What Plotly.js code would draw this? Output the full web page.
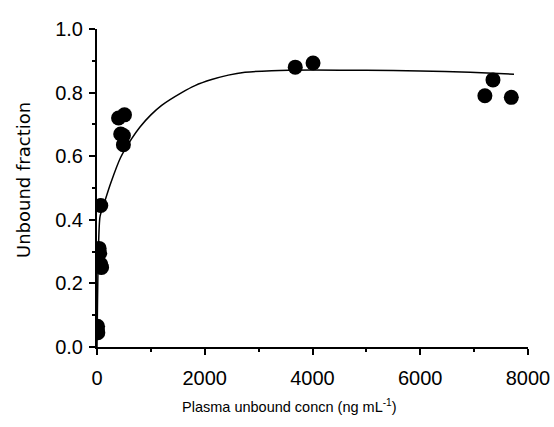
<!DOCTYPE html>
<html>
<head>
<meta charset="utf-8">
<script src="https://cdn.plot.ly/plotly-3.0.1.min.js"></script>
<style>html,body{margin:0;padding:0;background:#fff;}#chart{width:554px;height:427px;}</style>
</head>
<body>
<div id="chart"></div>
<script>
// Observed data points (plasma unbound concn, unbound fraction)
const pointX = [5, 10, 15, 40, 50, 70, 85, 70, 400, 510, 440, 490, 490, 3680, 4010, 7350, 7200, 7690];
const pointY = [0.055, 0.065, 0.045, 0.31, 0.295, 0.26, 0.25, 0.445, 0.72, 0.73, 0.67, 0.665, 0.636, 0.88, 0.893, 0.84, 0.79, 0.785];

// Fitted curve
const curveX = [0, 10, 25, 56, 148, 254, 436, 644, 798, 1000, 1200, 1572, 1819, 2128, 2437, 2747, 3242, 4000, 5000, 6000, 6924, 7740];
const curveY = [0.0, 0.15, 0.30, 0.41, 0.46, 0.515, 0.595, 0.655, 0.692, 0.730, 0.760, 0.800, 0.822, 0.841, 0.855, 0.864, 0.869, 0.871, 0.870, 0.868, 0.864, 0.858];

// Axis ticks
const xTicks = [0, 2000, 4000, 6000, 8000];
const xTickText = ['0', '2000', '4000', '6000', '8000'];
const yTicks = [0.0, 0.2, 0.4, 0.6, 0.8, 1.0];
const yTickText = ['0.0', '0.2', '0.4', '0.6', '0.8', '1.0'];

const fontFam = 'Liberation Sans, Arial, sans-serif';
const yTitleFam = 'DejaVu Sans, Verdana, sans-serif';

const traces = [
  {x: curveX, y: curveY, type: 'scatter', mode: 'lines', line: {color: '#000', width: 1.5, shape: 'spline', smoothing: 0.6}, hoverinfo: 'skip', showlegend: false},
  {x: pointX, y: pointY, type: 'scatter', mode: 'markers', marker: {color: '#000', size: 15, symbol: 'circle'}, showlegend: false}
];

const axisCommon = {
  showgrid: false, zeroline: false, showline: true, linecolor: '#000', linewidth: 2,
  ticks: 'outside', ticklen: 6, tickwidth: 2, tickcolor: '#000',
  tickfont: {family: fontFam, size: 20, color: '#000'}
};

const layout = {
  width: 554, height: 427,
  margin: {l: 97, r: 26, t: 29, b: 80},
  paper_bgcolor: '#fff', plot_bgcolor: '#fff',
  font: {family: fontFam, color: '#000'},
  xaxis: Object.assign({}, axisCommon, {
    range: [0, 8000], tickmode: 'array', tickvals: xTicks, ticktext: xTickText,
    ticklabelstandoff: 6,
    minor: {tickmode: 'linear', tick0: 0, dtick: 1000, ticks: 'outside', ticklen: 3, tickwidth: 2, tickcolor: '#000', showgrid: false}
  }),
  yaxis: Object.assign({}, axisCommon, {
    range: [0, 1.0], tickmode: 'array', tickvals: yTicks, ticktext: yTickText,
    ticklabelstandoff: 2,
    minor: {tickmode: 'linear', tick0: 0, dtick: 0.1, ticks: 'outside', ticklen: 3, tickwidth: 2, tickcolor: '#000', showgrid: false}
  }),
  annotations: [
    {text: 'Plasma unbound concn (ng mL<sup>-1</sup>)', xref: 'paper', yref: 'paper', x: (289 - 97) / 431, y: -(406 - 347) / 318, xanchor: 'center', yanchor: 'middle', showarrow: false, font: {family: fontFam, size: 14.5, color: '#000'}},
    {text: 'Unbound fraction', xref: 'paper', yref: 'paper', x: (23 - 97) / 431, y: (347 - 180) / 318, xanchor: 'center', yanchor: 'middle', textangle: -90, showarrow: false, font: {family: yTitleFam, size: 18, color: '#000'}}
  ]
};

Plotly.newPlot('chart', traces, layout, {displayModeBar: false, staticPlot: true});
</script>
</body>
</html>
